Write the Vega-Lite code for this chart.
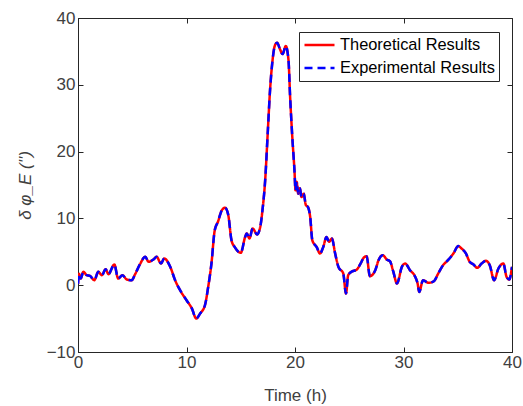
{
  "$schema": "https://vega.github.io/schema/vega-lite/v6.json",
  "width": 434,
  "height": 334,
  "autosize": {"type": "none"},
  "padding": {"left": 78, "top": 18, "right": 11, "bottom": 54},
  "background": "white",
  "config": {
    "view": {"stroke": "#262626", "strokeWidth": 1},
    "font": "Liberation Sans",
    "axis": {
      "domainColor": "#262626",
      "tickColor": "#262626",
      "labelColor": "#404040",
      "titleColor": "#404040",
      "labelFontSize": 17,
      "titleFontSize": 17,
      "titleFontWeight": "normal",
      "tickWidth": 1,
      "labelFlush": false,
      "grid": false
    },
    "legend": {
      "orient": "none",
      "legendX": 221,
      "legendY": 14,
      "strokeColor": "#262626",
      "fillColor": "white",
      "padding": 4,
      "labelFontSize": 16.4,
      "labelColor": "#000000",
      "symbolType": "M-2,0H2",
      "symbolSize": 225,
      "symbolOffset": 7.5,
      "symbolStrokeWidth": 2.5,
      "rowPadding": 5,
      "labelOffset": 11.5,
      "title": null
    }
  },
  "data": {
    "values": [
      {"t": 0, "v": 0.2}, {"t": 0.1, "v": 1.7}, {"t": 0.25, "v": 1.0}, {"t": 0.5, "v": 2.0},
      {"t": 0.8, "v": 1.5}, {"t": 1.1, "v": 1.4}, {"t": 1.5, "v": 0.75}, {"t": 1.87, "v": 2.0},
      {"t": 2.2, "v": 1.5}, {"t": 2.55, "v": 2.4}, {"t": 2.8, "v": 1.65}, {"t": 3.35, "v": 3.1},
      {"t": 3.7, "v": 1.0}, {"t": 4.1, "v": 1.5}, {"t": 4.5, "v": 0.85}, {"t": 4.95, "v": 0.75},
      {"t": 5.25, "v": 1.6}, {"t": 5.7, "v": 3.1}, {"t": 6.2, "v": 4.25}, {"t": 6.5, "v": 3.5},
      {"t": 6.95, "v": 3.85}, {"t": 7.25, "v": 4.25}, {"t": 7.65, "v": 3.25}, {"t": 7.95, "v": 4.0},
      {"t": 8.5, "v": 2.75}, {"t": 8.95, "v": 0.75}, {"t": 9.5, "v": -1.0}, {"t": 10.0, "v": -2.25},
      {"t": 10.5, "v": -3.5}, {"t": 10.9, "v": -5.0}, {"t": 11.25, "v": -4.25}, {"t": 11.7, "v": -3.0},
      {"t": 12.0, "v": -0.25}, {"t": 12.3, "v": 3.25}, {"t": 12.6, "v": 8.2}, {"t": 12.9, "v": 9.5},
      {"t": 13.25, "v": 11.2}, {"t": 13.55, "v": 11.6}, {"t": 13.85, "v": 10.5}, {"t": 14.15, "v": 6.7},
      {"t": 14.45, "v": 5.7}, {"t": 15.0, "v": 4.85}, {"t": 15.4, "v": 7.2}, {"t": 15.55, "v": 7.75},
      {"t": 15.8, "v": 7.0}, {"t": 16.1, "v": 8.5}, {"t": 16.5, "v": 7.6}, {"t": 16.8, "v": 8.75},
      {"t": 17.0, "v": 11.2}, {"t": 17.25, "v": 15.7}, {"t": 17.5, "v": 23.2}, {"t": 17.7, "v": 29.2},
      {"t": 17.9, "v": 33.2}, {"t": 18.15, "v": 35.9}, {"t": 18.35, "v": 36.3}, {"t": 18.6, "v": 35.4},
      {"t": 18.85, "v": 34.6}, {"t": 19.15, "v": 35.8}, {"t": 19.4, "v": 33.7}, {"t": 19.55, "v": 28.2},
      {"t": 19.75, "v": 22.2}, {"t": 19.95, "v": 17.2}, {"t": 20.05, "v": 14.2}, {"t": 20.15, "v": 15.5},
      {"t": 20.3, "v": 13.7}, {"t": 20.45, "v": 14.5}, {"t": 20.6, "v": 13.2}, {"t": 20.8, "v": 13.7},
      {"t": 21.0, "v": 12.0}, {"t": 21.2, "v": 11.7}, {"t": 21.4, "v": 10.2}, {"t": 21.6, "v": 6.7},
      {"t": 22.0, "v": 5.7}, {"t": 22.3, "v": 4.75}, {"t": 22.6, "v": 5.7}, {"t": 22.9, "v": 7.2},
      {"t": 23.15, "v": 6.5}, {"t": 23.4, "v": 7.0}, {"t": 23.7, "v": 4.75}, {"t": 24.0, "v": 2.75},
      {"t": 24.45, "v": 1.75}, {"t": 24.7, "v": -1.25}, {"t": 24.9, "v": 1.5}, {"t": 25.2, "v": 2.0},
      {"t": 25.7, "v": 2.35}, {"t": 26.05, "v": 3.25}, {"t": 26.35, "v": 4.15}, {"t": 26.6, "v": 4.35},
      {"t": 26.9, "v": 1.35}, {"t": 27.4, "v": 2.25}, {"t": 27.7, "v": 3.75}, {"t": 28.1, "v": 4.5},
      {"t": 28.45, "v": 3.85}, {"t": 28.75, "v": 3.6}, {"t": 29.05, "v": 2.1}, {"t": 29.4, "v": 0.25},
      {"t": 29.85, "v": 2.75}, {"t": 30.15, "v": 3.25}, {"t": 30.6, "v": 2.25}, {"t": 31.05, "v": 1.35},
      {"t": 31.3, "v": 0.25}, {"t": 31.45, "v": -1.0}, {"t": 31.8, "v": 0.75}, {"t": 32.3, "v": 0.35},
      {"t": 32.8, "v": 0.6}, {"t": 33.2, "v": 1.75}, {"t": 33.65, "v": 3.0}, {"t": 34.1, "v": 3.75},
      {"t": 34.6, "v": 4.75}, {"t": 35.05, "v": 5.85}, {"t": 35.35, "v": 5.5}, {"t": 35.75, "v": 4.75},
      {"t": 36.1, "v": 3.5}, {"t": 36.45, "v": 3.1}, {"t": 36.8, "v": 2.6}, {"t": 37.2, "v": 3.25},
      {"t": 37.6, "v": 3.65}, {"t": 37.95, "v": 3.0}, {"t": 38.35, "v": 0.75}, {"t": 38.75, "v": 2.5},
      {"t": 39.2, "v": 3.25}, {"t": 39.5, "v": 1.25}, {"t": 39.75, "v": 0.85}, {"t": 40.0, "v": 2.75}
    ]
  },
  "layer": [
    {
      "mark": {"type": "line", "strokeWidth": 2.5, "interpolate": "monotone", "clip": true},
      "encoding": {
        "x": {"field": "t", "type": "quantitative", "scale": {"domain": [0, 40], "nice": false}, "axis": {"orient": "bottom", "title": "Time (h)", "values": [0, 10, 20, 30, 40], "ticks": false, "labelPadding": 2, "titlePadding": 17}},
        "y": {"field": "v", "type": "quantitative", "scale": {"domain": [-10, 40], "nice": false}, "axis": {"orient": "left", "title": "δ φ_E ('')", "values": [-10, 0, 10, 20, 30, 40], "ticks": false, "labelPadding": 3, "titlePadding": 12, "titleFontStyle": "italic"}},
        "color": {"datum": "Theoretical Results", "type": "nominal", "scale": {"domain": ["Theoretical Results", "Experimental Results"], "range": ["#FF0000", "#0000FF"]}, "legend": {"title": null}},
        "strokeDash": {"datum": "Theoretical Results", "type": "nominal", "scale": {"domain": ["Theoretical Results", "Experimental Results"], "range": [[1, 0], [8, 5]]}, "legend": {"title": null}}
      }
    },
    {
      "mark": {"type": "line", "strokeWidth": 2.5, "interpolate": "monotone", "clip": true},
      "encoding": {
        "x": {"field": "t", "type": "quantitative", "axis": null},
        "y": {"field": "v", "type": "quantitative", "axis": null},
        "color": {"datum": "Experimental Results", "type": "nominal"},
        "strokeDash": {"datum": "Experimental Results", "type": "nominal"}
      }
    },
    {
      "mark": {"type": "line", "opacity": 0},
      "encoding": {
        "x": {"field": "t", "type": "quantitative", "axis": {"orient": "top", "labels": false, "domain": false, "title": null, "ticks": true, "tickSize": 5, "offset": -5, "values": [0, 10, 20, 30, 40]}},
        "y": {"field": "v", "type": "quantitative", "axis": {"orient": "right", "labels": false, "domain": false, "title": null, "ticks": true, "tickSize": 5, "offset": -5, "values": [-10, 0, 10, 20, 30, 40]}}
      }
    },
    {
      "mark": {"type": "line", "opacity": 0},
      "encoding": {
        "x": {"field": "t", "type": "quantitative", "axis": {"orient": "bottom", "labels": false, "domain": false, "title": null, "ticks": true, "tickSize": 5, "offset": -5, "values": [0, 10, 20, 30, 40]}},
        "y": {"field": "v", "type": "quantitative", "axis": {"orient": "left", "labels": false, "domain": false, "title": null, "ticks": true, "tickSize": 5, "offset": -5, "values": [-10, 0, 10, 20, 30, 40]}}
      }
    }
  ],
  "resolve": {"axis": {"x": "independent", "y": "independent"}}
}
